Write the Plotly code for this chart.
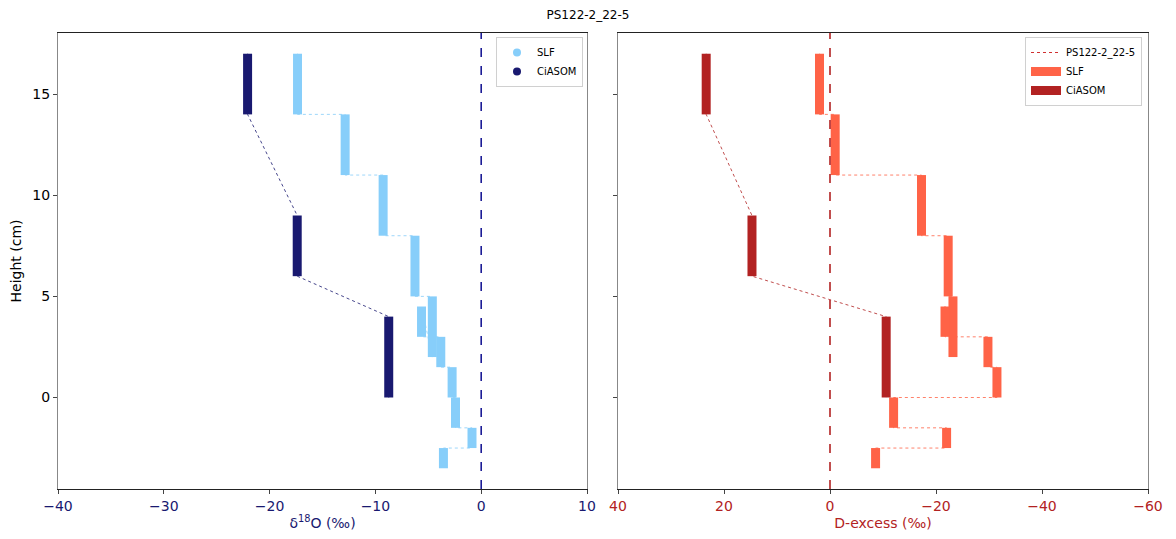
import plotly.graph_objects as go

# ---------------- data ----------------
title_text = "PS122-2_22-5"

slf_top = [17, 14, 11, 8, 5, 4.5, 3, 1.5, 0, -1.5, -2.5]
slf_bottom = [14, 11, 8, 5, 2, 3, 1.5, 0, -1.5, -2.5, -3.5]
slf_d18o = [-17.36, -12.86, -9.27, -6.26, -4.62, -5.64, -3.82, -2.75, -2.43, -0.87, -3.57]
slf_dex = [1.98, -0.98, -17.26, -22.3, -23.2, -21.7, -29.8, -31.5, -12.0, -22.0, -8.6]

ciasom_top = [17, 9, 4]
ciasom_bottom = [14, 6, 0]
ciasom_d18o = [-22.08, -17.39, -8.74]
ciasom_dex = [23.36, 14.72, -10.6]

left_ticks = [-40, -30, -20, -10, 0, 10]
right_ticks = [40, 20, 0, -20, -40, -60]
y_ticks = [0, 5, 10, 15]
ref_x = 0

# ---------------- style ----------------
C_SLF_L = "#87CEFA"
C_CIA_L = "#191970"
C_SLF_R = "#FF6347"
C_CIA_R = "#B22222"
FONT = "DejaVu Sans"


def segs(vals, tops, bots):
    xs, ys = [], []
    for v, t, b in zip(vals, tops, bots):
        xs += [v, v, None]
        ys += [t, b, None]
    return xs, ys


def path(vals, tops, bots):
    xs, ys = [], []
    for v, t, b in zip(vals, tops, bots):
        xs += [v, v]
        ys += [t, b]
    return xs, ys


fig = go.Figure()

# ---- left panel (d18O) ----
for vals, tops, bots, col in [(slf_d18o, slf_top, slf_bottom, C_SLF_L),
                              (ciasom_d18o, ciasom_top, ciasom_bottom, C_CIA_L)]:
    px_, py_ = path(vals, tops, bots)
    fig.add_trace(go.Scatter(x=px_, y=py_, mode="lines", xaxis="x", yaxis="y",
                             line=dict(color=col, width=1, dash="dot"),
                             opacity=0.8, showlegend=False, hoverinfo="skip"))
    sx, sy = segs(vals, tops, bots)
    fig.add_trace(go.Scatter(x=sx, y=sy, mode="lines", xaxis="x", yaxis="y",
                             line=dict(color=col, width=9),
                             showlegend=False, hoverinfo="skip"))

fig.add_trace(go.Scatter(x=[None], y=[None], mode="markers", name="SLF",
                         marker=dict(color=C_SLF_L, size=8), xaxis="x", yaxis="y",
                         legend="legend"))
fig.add_trace(go.Scatter(x=[None], y=[None], mode="markers", name="CiASOM",
                         marker=dict(color=C_CIA_L, size=8), xaxis="x", yaxis="y",
                         legend="legend"))

# ---- right panel (D-excess) ----
for vals, tops, bots, col in [(slf_dex, slf_top, slf_bottom, C_SLF_R),
                              (ciasom_dex, ciasom_top, ciasom_bottom, C_CIA_R)]:
    px_, py_ = path(vals, tops, bots)
    fig.add_trace(go.Scatter(x=px_, y=py_, mode="lines", xaxis="x2", yaxis="y2",
                             line=dict(color=col, width=1, dash="dot"),
                             opacity=0.8, showlegend=False, hoverinfo="skip"))

fig.add_trace(go.Scatter(x=[None], y=[None], mode="lines", name=title_text,
                         line=dict(color="#d03030", width=1, dash="dot"),
                         xaxis="x2", yaxis="y2", legend="legend2"))

for vals, tops, bots, col, nm in [(slf_dex, slf_top, slf_bottom, C_SLF_R, "SLF"),
                                  (ciasom_dex, ciasom_top, ciasom_bottom, C_CIA_R, "CiASOM")]:
    sx, sy = segs(vals, tops, bots)
    fig.add_trace(go.Scatter(x=sx, y=sy, mode="lines", xaxis="x2", yaxis="y2",
                             line=dict(color=col, width=9), name=nm,
                             legend="legend2", hoverinfo="skip"))

fig.add_shape(type="line", x0=ref_x, x1=ref_x, y0=0, y1=1, xref="x", yref="y domain",
              line=dict(color="#1c1c96", width=1.6, dash="dash"), layer="above")
fig.add_shape(type="line", x0=ref_x, x1=ref_x, y0=0, y1=1, xref="x2", yref="y2 domain",
              line=dict(color=C_CIA_R, width=1.6, dash="dash"), layer="above")

# page has an 8px body margin: work in reference pixels minus 8
OFF = 8
W, H = 1176 - 2 * OFF, 539 - 2 * OFF


def fx(p):
    return (p - OFF) / W


def fy(p):
    return 1 - (p - OFF) / H


yr = [-4.525, 18.025]

common_axis = dict(showgrid=False, zeroline=False, showline=True, mirror=True,
                   ticks="outside", ticklen=4, tickwidth=1, tickcolor="#444",
                   automargin=False)

fig.update_layout(
    width=W, height=H,
    margin=dict(l=0, r=0, t=0, b=0),
    paper_bgcolor="white", plot_bgcolor="white",
    font=dict(family=FONT, size=14, color="black"),
    title=dict(text=title_text, x=fx(588), xanchor="center", y=fy(10.5), yanchor="top",
               font=dict(size=12, color="black")),
    xaxis=dict(domain=[fx(58), fx(587)], range=[-40, 10], tickvals=left_ticks,
               ticktext=[("\u2212" + str(abs(t))) if t < 0 else str(t) for t in left_ticks],
               tickfont=dict(color=C_CIA_L, size=14), linecolor="#222",
               title=dict(text="\u03b4<sup>18</sup>O (\u2030)", font=dict(color=C_CIA_L, size=14), standoff=6),
               anchor="y", **common_axis),
    yaxis=dict(domain=[fy(489), fy(33)], range=yr, tickvals=y_ticks, linecolor="#888",
               tickfont=dict(size=14),
               title=dict(text="Height (cm)", font=dict(size=14), standoff=10),
               anchor="x", **common_axis),
    xaxis2=dict(domain=[fx(618), fx(1148)], range=[40, -60], tickvals=right_ticks,
                ticktext=[("\u2212" + str(abs(t))) if t < 0 else str(t) for t in right_ticks],
                tickfont=dict(color=C_CIA_R, size=14), linecolor="#222",
                title=dict(text="D-excess (\u2030)", font=dict(color=C_CIA_R, size=14), standoff=6),
                anchor="y2", **common_axis),
    yaxis2=dict(domain=[fy(489), fy(33)], range=yr, tickvals=y_ticks, showticklabels=False,
                linecolor="#888", anchor="x2", **common_axis),
    legend=dict(x=fx(583), xanchor="right", y=fy(37), yanchor="top",
                bgcolor="rgba(255,255,255,0.8)", bordercolor="#d0d0d0", borderwidth=1,
                font=dict(size=10), tracegroupgap=0, itemwidth=30),
    legend2=dict(x=fx(1142), xanchor="right", y=fy(37), yanchor="top",
                 bgcolor="rgba(255,255,255,0.8)", bordercolor="#d0d0d0", borderwidth=1,
                 font=dict(size=10), tracegroupgap=0, itemwidth=30),
)

fig.write_html("out.html")
